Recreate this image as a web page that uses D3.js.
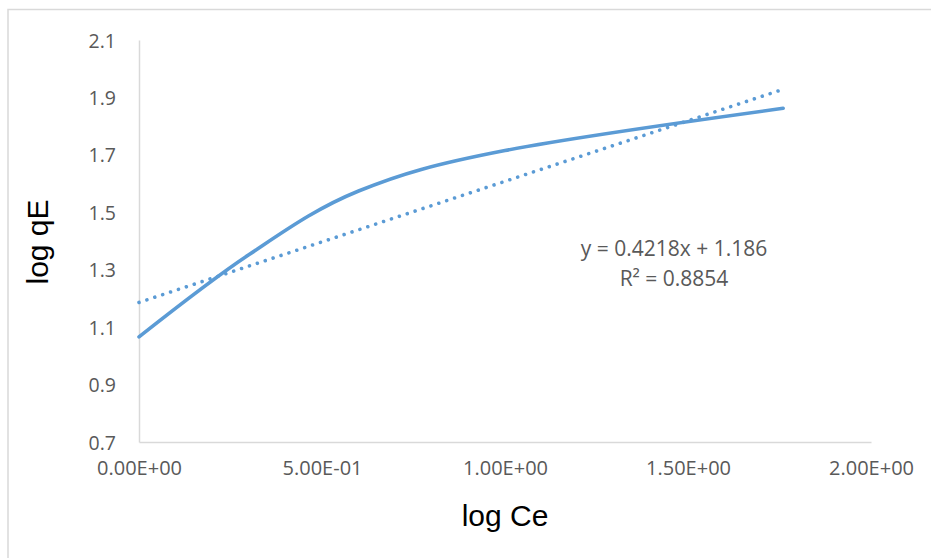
<!DOCTYPE html>
<html>
<head>
<meta charset="utf-8">
<script src="https://cdn.jsdelivr.net/npm/d3@7"></script>
<style>
  html, body { margin: 0; padding: 0; background: #fff; }
  svg { display: block; }
</style>
</head>
<body>
<svg id="chart" width="931" height="558"></svg>
<script>
// Freundlich isotherm data: log Ce vs log qE
const logCe = [0, 0.30, 0.60, 1.00, 1.76];
const logQe = [1.066, 1.352, 1.574, 1.715, 1.862];

// Linear trendline reported on the chart
const trendSlope = 0.4218;
const trendIntercept = 1.186;
const rSquared = 0.8854;

const xTicks = [0, 0.5, 1.0, 1.5, 2.0];
const xTickLabels = ["0.00E+00", "5.00E-01", "1.00E+00", "1.50E+00", "2.00E+00"];
const yTicks = [0.7, 0.9, 1.1, 1.3, 1.5, 1.7, 1.9, 2.1];
const yTickLabels = ["0.7", "0.9", "1.1", "1.3", "1.5", "1.7", "1.9", "2.1"];

const xTitle = "log Ce";
const yTitle = "log qE";

const svg = d3.select("#chart");
const blue = "#5B9BD5";
const axisGrey = "#d9d9d9";
const labelGrey = "#595959";

// chart frame (only top and left edges fall inside the view)
svg.append("rect")
  .attr("x", 8).attr("y", 9.5)
  .attr("width", 1000).attr("height", 1000)
  .attr("fill", "none")
  .attr("stroke", axisGrey)
  .attr("stroke-width", 1.5);

const x = d3.scaleLinear().domain([0, 2]).range([139, 871]);
const y = d3.scaleLinear().domain([0.7, 2.1]).range([442, 40]);

// y axis
const yAxis = svg.append("g")
  .attr("transform", `translate(${x(0)},0)`)
  .call(d3.axisLeft(y).tickValues(yTicks)
    .tickFormat((d, i) => yTickLabels[i])
    .tickSize(0).tickPadding(23));
yAxis.select(".domain").attr("stroke", axisGrey).attr("stroke-width", 1.5);
yAxis.selectAll("text")
  .attr("fill", labelGrey)
  .attr("font-family", "'Open Sans', sans-serif")
  .attr("font-size", 19.5)
  .attr("dy", "0.36em");

// x axis
const xAxis = svg.append("g")
  .attr("transform", `translate(0,${y(0.7)})`)
  .call(d3.axisBottom(x).tickValues(xTicks)
    .tickFormat((d, i) => xTickLabels[i])
    .tickSize(0).tickPadding(19));
xAxis.select(".domain").attr("stroke", axisGrey).attr("stroke-width", 1.5);
xAxis.selectAll("text")
  .attr("fill", labelGrey)
  .attr("font-family", "'Open Sans', sans-serif")
  .attr("font-size", 20);

// data curve (smoothed)
const pts = logCe.map((c, i) => [c, logQe[i]]);
const line = d3.line()
  .x(d => x(d[0]))
  .y(d => y(d[1]))
  .curve(d3.curveCardinal.tension(0));
svg.append("path")
  .datum(pts)
  .attr("d", line)
  .attr("fill", "none")
  .attr("stroke", blue)
  .attr("stroke-width", 3.6)
  .attr("stroke-linecap", "round");

// linear trendline (round-dot style)
const xMin = d3.min(logCe), xMax = d3.max(logCe);
const trendPts = [xMin, xMax].map(c => [c, trendSlope * c + trendIntercept]);
svg.append("path")
  .datum(trendPts)
  .attr("d", d3.line().x(d => x(d[0])).y(d => y(d[1])))
  .attr("fill", "none")
  .attr("stroke", blue)
  .attr("stroke-width", 3.6)
  .attr("stroke-linecap", "round")
  .attr("stroke-dasharray", "0.01 8.3");

// equation label
const eq = svg.append("g")
  .attr("font-family", "'Open Sans', sans-serif")
  .attr("font-size", 21)
  .attr("fill", labelGrey)
  .attr("text-anchor", "middle");
eq.append("text").attr("x", 674).attr("y", 256)
  .text(`y = ${trendSlope}x + ${trendIntercept}`);
eq.append("text").attr("x", 674).attr("y", 286)
  .text(`R² = ${rSquared}`);

// axis titles
svg.append("text")
  .attr("x", 505).attr("y", 526)
  .attr("text-anchor", "middle")
  .attr("font-family", "'Liberation Sans', Arial, sans-serif")
  .attr("font-size", 30)
  .attr("fill", "#000")
  .text(xTitle);

svg.append("text")
  .attr("transform", "translate(48,242) rotate(-90)")
  .attr("text-anchor", "middle")
  .attr("font-family", "'Liberation Sans', Arial, sans-serif")
  .attr("font-size", 30)
  .attr("fill", "#000")
  .text(yTitle);
</script>
</body>
</html>
